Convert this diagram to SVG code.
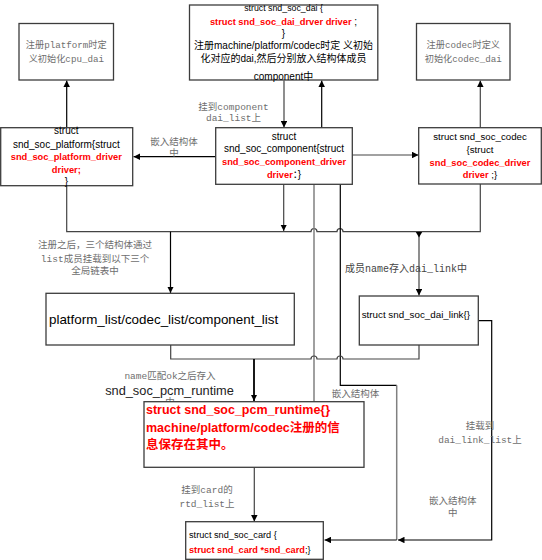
<svg xmlns="http://www.w3.org/2000/svg" width="542" height="560" viewBox="0 0 542 560">
<style>
.box{fill:#fff;stroke:#3c3c3c;stroke-width:1.3}
.t{font-family:"Liberation Sans","Noto Sans CJK SC",sans-serif;font-size:10px;fill:#000}
.c{text-anchor:middle}
.rb{font-weight:bold;fill:#f00;font-size:9.3px}
.lbl{font-family:"Liberation Mono","Noto Sans CJK SC",monospace;font-size:9.5px;fill:#6e6e6e;text-anchor:middle}
.ln{fill:none;stroke:#000;stroke-width:1.2}
.dk{stroke:#444}
.gr{stroke:#808080;stroke-width:1.5}
</style>
<defs>
<marker id="ah" markerUnits="userSpaceOnUse" viewBox="0 0 8 8" refX="8" refY="4" markerWidth="6.5" markerHeight="6.5" orient="auto">
<path d="M0,0 L8,4 L0,8 z" fill="#000"/>
</marker>
</defs>
<rect width="542" height="560" fill="#fff"/>

<g id="connectors">
<path class="ln" d="M66.7,128 V80.5" marker-end="url(#ah)"/>
<path class="ln dk" d="M480.3,128 V80.5" marker-end="url(#ah)"/>
<path class="ln" d="M216,156.7 H133.5" marker-end="url(#ah)"/>
<path class="ln dk" d="M352.3,155 H418.5" marker-end="url(#ah)"/>
<path class="ln dk" d="M284,80.5 V127.5" marker-end="url(#ah)"/>
<path class="ln" d="M321.7,128 V80.5" marker-end="url(#ah)"/>
<path class="ln dk" d="M66.7,186 V231.7 H311 a3,3 0 0 1 6,0 H337 a3,3 0 0 1 6,0 H480.3 V184"/>
<path class="ln dk" d="M283.7,184.3 V231" marker-end="url(#ah)"/>
<path class="ln" d="M170.5,231.7 V293" marker-end="url(#ah)"/>
<path class="ln dk" d="M419,231.7 V295.5" marker-end="url(#ah)"/>
<path d="M415.8,232 H422.2 L419,237.5 z" fill="#000"/>
<path class="ln gr" d="M314,184.3 V408" marker-end="url(#ah)"/>
<path class="ln" d="M340.3,184.3 V385.3 H396.7"/>
<path class="ln gr" d="M396.7,385.3 V540"/>
<path class="ln" d="M396.7,540 H324.5" marker-end="url(#ah)"/>
<path class="ln" d="M478.3,320.7 H491.7 V540 H398" marker-end="url(#ah)"/>
<path class="ln dk" d="M170.7,345 V359 H311 a3,3 0 0 1 6,0 H337 a3,3 0 0 1 6,0 H419 V345"/>
<path class="ln" style="stroke-width:1.8" d="M254,359 V401" marker-end="url(#ah)"/>
<path class="ln dk" d="M254.3,467.3 V521.5" marker-end="url(#ah)"/>

<text class="lbl"><tspan x="174" y="145">嵌入结构体</tspan><tspan x="174" y="155.5">中</tspan></text>
<text class="lbl"><tspan x="233.5" y="109.5">挂到component</tspan><tspan x="233.5" y="121">dai_list上</tspan></text>
<text class="lbl"><tspan x="95" y="247.8">注册之后，三个结构体通过</tspan><tspan x="95" y="261.8">list成员挂载到以下三个</tspan><tspan x="95" y="274">全局链表中</tspan></text>
<text class="lbl" style="font-size:10px;fill:#444"><tspan x="406" y="272">成员name存入dai_link中</tspan></text>
<text class="lbl"><tspan x="170" y="378.5">name匹配ok之后存入</tspan></text>
<text class="t c" style="font-size:12.8px;fill:#222" x="169.5" y="394.5">snd_soc_pcm_runtime</text>
<text class="lbl"><tspan x="170" y="405">中</tspan></text>
<text class="lbl"><tspan x="355.5" y="396.5">嵌入结构体</tspan><tspan x="355.5" y="410">中</tspan></text>
<text class="lbl"><tspan x="480" y="428.5">挂载到</tspan><tspan x="480" y="442.5">dai_link_list上</tspan></text>
<text class="lbl"><tspan x="207" y="492.5">挂到card的</tspan><tspan x="207" y="506.5">rtd_list上</tspan></text>
<text class="lbl"><tspan x="452.7" y="503.5">嵌入结构体</tspan><tspan x="452.7" y="515.5">中</tspan></text>
</g>

<g id="cpu_dai">
<rect class="box" x="19" y="23.5" width="94.5" height="56.5"/>
<text class="lbl" style="font-size:9.2px"><tspan x="66.3" y="47.5">注册platform时定</tspan><tspan x="66.3" y="61.5">义初始化cpu_dai</tspan></text>
</g>

<g id="snd_soc_dai">
<rect class="box" x="189.5" y="5" width="188.3" height="75"/>
<text class="t c" x="283.5" y="10.8" style="font-size:8.8px">struct snd_soc_dai {</text>
<text class="t c" x="283.5" y="24.5"><tspan class="rb">struct snd_soc_dai_drver driver</tspan> ;</text>
<text class="t c" x="283.5" y="36.8">}</text>
<text class="t c" x="283.5" y="48.5">注册machine/platform/codec时定 义初始</text>
<text class="t c" x="283.5" y="62">化对应的dai,然后分别放入结构体成员</text>
<text class="t c" x="283.5" y="79.5">component中</text>
</g>

<g id="codec_dai">
<rect class="box" x="416.5" y="23.5" width="93.5" height="56.5"/>
<text class="lbl" style="font-size:9.2px"><tspan x="463.3" y="47.5">注册codec时定义</tspan><tspan x="463.3" y="61.5">初始化codec_dai</tspan></text>
</g>

<g id="snd_soc_platform">
<rect class="box" x="0.7" y="127.7" width="132" height="58"/>
<text class="t c" x="66.3" y="134">struct</text>
<text class="t c" x="66.3" y="147.5">snd_soc_platform{struct</text>
<text class="t c rb" x="66.3" y="160">snd_soc_platform_driver</text>
<text class="t c rb" x="66.3" y="172.7">driver;</text>
<text class="t c" x="66.3" y="185">}</text>
</g>

<g id="snd_soc_component">
<rect class="box" x="215.7" y="127.7" width="136.6" height="56.6"/>
<text class="t c" x="284" y="139.5">struct</text>
<text class="t c" x="284" y="152">snd_soc_component{struct</text>
<text class="t c rb" x="284" y="165">snd_soc_component_driver</text>
<text class="t c" x="284" y="177.5"><tspan class="rb">driver</tspan>：}</text>
</g>

<g id="snd_soc_codec">
<rect class="box" x="418.7" y="127.7" width="122.6" height="56.3"/>
<text class="t c" x="480" y="140" style="font-size:9.7px">struct snd_soc_codec</text>
<text class="t c" x="480" y="152.5" style="font-size:9.7px">{struct</text>
<text class="t c rb" x="480" y="166">snd_soc_codec_driver</text>
<text class="t c" x="480" y="177.5" style="font-size:9.7px"><tspan class="rb">driver</tspan> ;}</text>
</g>

<g id="global_lists">
<rect class="box" x="46" y="293.3" width="248.3" height="51.7"/>
<text class="t" x="49" y="323.7" style="font-size:13.4px">platform_list/codec_list/component_list</text>
</g>

<g id="snd_soc_dai_link">
<rect class="box" x="359.3" y="296" width="119" height="49"/>
<text class="t" x="361.7" y="317.5" style="font-size:9.8px">struct snd_soc_dai_link{}</text>
</g>

<g id="snd_soc_pcm_runtime">
<rect class="box" x="144" y="401.7" width="220" height="65.6"/>
<text class="t" style="font-size:12.5px;font-weight:bold;fill:#f00"><tspan x="146" y="413.5">struct snd_soc_pcm_runtime{}</tspan><tspan x="146" y="431.5">machine/platform/codec注册的信</tspan><tspan x="146" y="449">息保存在其中。</tspan></text>
</g>

<g id="snd_soc_card">
<rect class="box" x="185.7" y="521.7" width="137.6" height="37.6"/>
<text class="t" x="189" y="538" style="font-size:9.2px">struct snd_soc_card {</text>
<text class="t" x="189" y="552.5" style="font-size:9.2px"><tspan style="font-weight:bold;fill:#f00">struct snd_card *snd_card</tspan>;}</text>
</g>
</svg>
